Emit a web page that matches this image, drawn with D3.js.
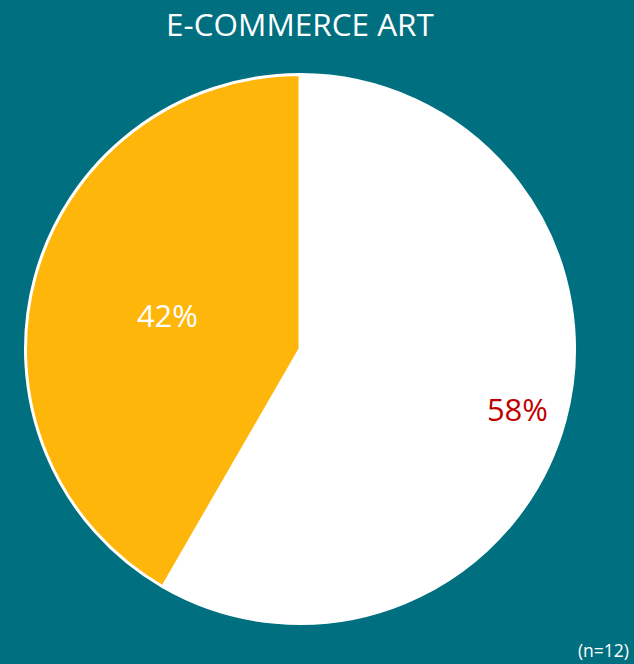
<!DOCTYPE html>
<html>
<head>
<meta charset="utf-8">
<script src="https://d3js.org/d3.v7.min.js"></script>
<style>
  html, body { margin: 0; padding: 0; background: #006F80; }
  text { font-family: "Open Sans", "Noto Sans", sans-serif; }
</style>
</head>
<body>
<svg id="chart"></svg>
<script>
// data
const categories = ['No', 'Yes'];
const counts = [7, 5];
const slice_colors = ['#FFFFFF', '#FFB60A'];
const label_colors = ['#C00000', '#FFFFFF'];
const label_radius = [0.82, 0.5];
const title = 'E-COMMERCE ART';
const note = '(n=12)';

const width = 634, height = 664;
const cx = 300, cy = 349, radius = 274.5;

const svg = d3.select('#chart')
    .attr('width', width)
    .attr('height', height);

svg.append('rect')
    .attr('width', width)
    .attr('height', height)
    .attr('fill', '#006F80');

svg.append('text')
    .attr('x', 300)
    .attr('y', 36)
    .attr('text-anchor', 'middle')
    .attr('fill', '#FFFFFF')
    .style('font-size', '31.5px')
    .text(title);

const total = d3.sum(counts);
const pie = d3.pie().sort(null).value(d => d);
const arcs = pie(counts);
const arc = d3.arc().innerRadius(0).outerRadius(radius);

const grp = svg.append('g')
    .attr('transform', 'translate(' + cx + ',' + cy + ')');

grp.selectAll('path')
    .data(arcs)
    .enter()
  .append('path')
    .attr('d', arc)
    .attr('fill', (d, i) => slice_colors[i])
    .attr('stroke', '#FFFFFF')
    .attr('stroke-width', 3)
    .attr('stroke-linejoin', 'round');

// percent labels
grp.selectAll('text.pct')
    .data(arcs)
    .enter()
  .append('text')
    .attr('class', 'pct')
    .attr('transform', function(d, i){
        const r = radius * label_radius[i];
        return 'translate(' + d3.arc().innerRadius(r).outerRadius(r).centroid(d) + ')';
    })
    .attr('text-anchor', 'middle')
    .attr('dy', '0.45em')
    .attr('fill', (d, i) => label_colors[i])
    .style('font-size', '31px')
    .text(d => Math.round(d.data / total * 100) + '%');

svg.append('text')
    .attr('x', 629)
    .attr('y', 657)
    .attr('text-anchor', 'end')
    .attr('fill', '#FFFFFF')
    .style('font-size', '17.5px')
    .text(note);
</script>
</body>
</html>
